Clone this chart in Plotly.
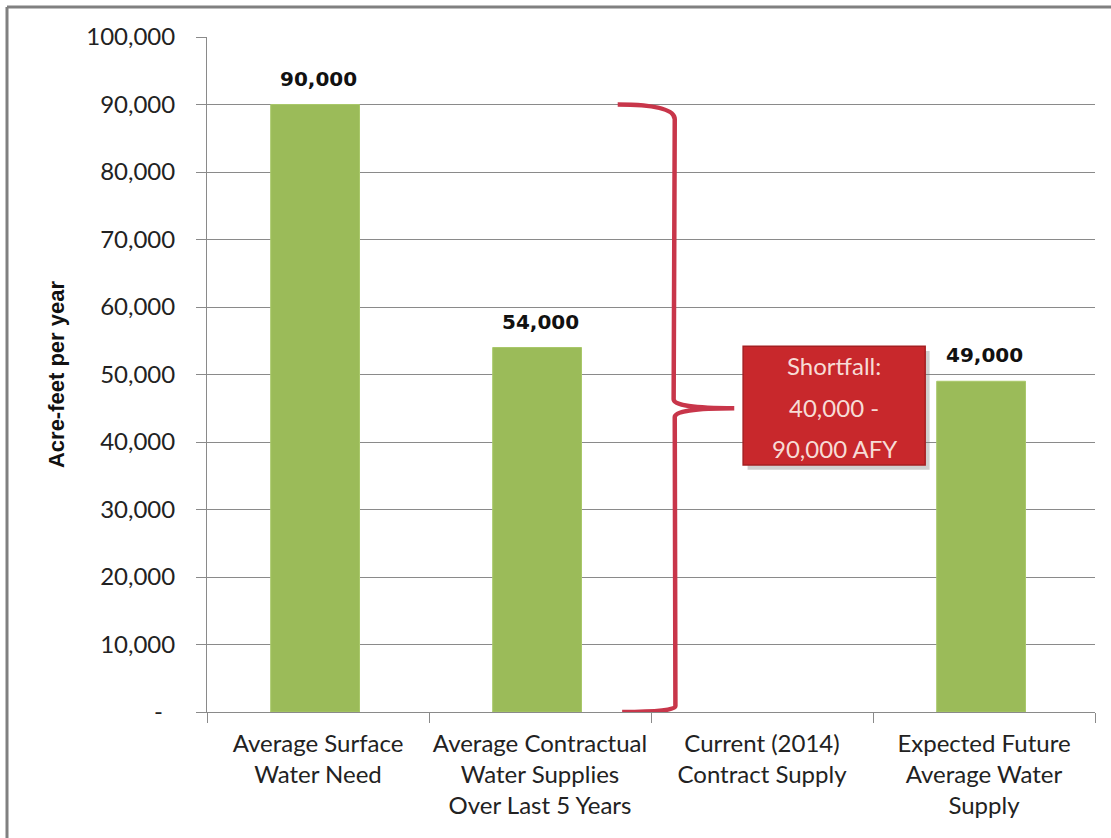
import plotly.graph_objects as go

categories = [
    "Average Surface<br>Water Need",
    "Average Contractual<br>Water Supplies<br>Over Last 5 Years",
    "Current (2014)<br>Contract Supply",
    "Expected Future<br>Average Water<br>Supply",
]
values = [90000, 54000, None, 49000]
value_labels = ["90,000", "54,000", "", "49,000"]
ytick_vals = [0, 10000, 20000, 30000, 40000, 50000, 60000, 70000, 80000, 90000, 100000]
ytick_text = ["-\u00a0\u00a0", "10,000", "20,000", "30,000", "40,000", "50,000",
              "60,000", "70,000", "80,000", "90,000", "100,000"]
shortfall_lines = ["Shortfall:", "40,000 -", "90,000 AFY"]
brace_range = [0, 90000]

W, H = 1111, 838
ML, MR, MT, MB = 207, 16, 37, 126
PW, PH = W - ML - MR, H - MT - MB

FONT = "Lato, Arial, sans-serif"
GREEN = "#9BBB59"
GRID = "#8a8a8a"

fig = go.Figure()
fig.add_trace(go.Bar(
    x=categories, y=values, width=0.4, offset=-0.213,
    marker=dict(color=GREEN, line=dict(color="#a9c86a", width=1)),
    hoverinfo="skip",
))

# data labels
for c, v, t in zip(categories, values, value_labels):
    if v is None:
        continue
    fig.add_annotation(x=c, y=v, text="<b>%s</b>" % t, showarrow=False,
                       yanchor="bottom", yshift=12,
                       font=dict(family="DejaVu Sans, Verdana, sans-serif", size=20, color="#111111"))

# curly brace (x in category index units)
xl, xv, xt = 1.35, 1.607, 1.875
y0, y1 = brace_range
ym = (y0 + y1) / 2
r = 2200
path = (
    f"M {xl},{y1} "
    f"Q {xv},{y1} {xv},{y1 - r} "
    f"L {xv - 0.005},{ym + r * 0.6} "
    f"Q {xv - 0.005},{ym} {xt},{ym} "
    f"Q {xv},{ym} {xv},{ym - r * 0.6} "
    f"L {xv + 0.003},{y0 + r * 0.4} "
    f"Q {xv + 0.003},{y0} {xl + 0.02},{y0}"
)
fig.add_shape(type="path", path=path, xref="x", yref="y",
              line=dict(color="#C8364A", width=4.5), layer="above")

# shortfall box
bx0, bx1, by0, by1 = 1.915, 2.735, 36600, 54200
fig.add_shape(type="rect", x0=bx0 + 0.02, x1=bx1 + 0.02, y0=by0 - 700, y1=by1 - 700,
              xref="x", yref="y", fillcolor="rgba(120,120,120,0.35)", line=dict(width=0),
              layer="above")
fig.add_shape(type="rect", x0=bx0, x1=bx1, y0=by0, y1=by1, xref="x", yref="y",
              fillcolor="#C8282C", line=dict(color="#A51F22", width=1.5), layer="above")
bcx = (bx0 + bx1) / 2
line_pos = [51300, 45100, 39100]
for t, yy in zip(shortfall_lines, line_pos):
    fig.add_annotation(x=bcx, y=yy, text=t, showarrow=False, xref="x", yref="y",
                       font=dict(family=FONT, size=24, color="#F7DCD6"))

# image frame (top and left lines)
fx = (7 - ML) / PW
fy = 1 + (MT - 7) / PH
fig.add_shape(type="line", xref="paper", yref="paper", x0=fx, x1=1 + MR / PW, y0=fy, y1=fy,
              line=dict(color="#808080", width=3))
fig.add_shape(type="line", xref="paper", yref="paper", x0=fx, x1=fx, y0=fy, y1=-MB / PH - 0.01,
              line=dict(color="#808080", width=3))

fig.update_layout(
    width=W, height=H,
    margin=dict(l=ML, r=MR, t=MT, b=MB, autoexpand=False),
    paper_bgcolor="white", plot_bgcolor="white",
    showlegend=False,
    bargap=0.6,
    font=dict(family=FONT, size=24, color="#222222"),
)
fig.update_xaxes(
    type="category", tickson="boundaries", ticks="outside", ticklen=10,
    tickcolor=GRID, showline=True, linecolor=GRID, linewidth=1,
    showgrid=False, range=[-0.5, 3.5], tickangle=0, automargin=False,
    ticklabelstandoff=10,
    tickfont=dict(family=FONT, size=24, color="#222222"),
)
fig.update_yaxes(
    range=[0, 100000], tickvals=ytick_vals, ticktext=ytick_text,
    ticks="outside", ticklen=10, tickcolor=GRID,
    showline=True, linecolor=GRID, linewidth=1,
    showgrid=True, gridcolor=GRID, gridwidth=1, zeroline=False,
    ticklabelstandoff=16, automargin=False,
    tickfont=dict(family=FONT, size=24, color="#222222"),
    title=dict(text="<b>Acre-feet per year</b>", standoff=15,
               font=dict(family="Liberation Sans, Arial, sans-serif", size=22, color="#111111")),
)

fig.write_html("out.html")
